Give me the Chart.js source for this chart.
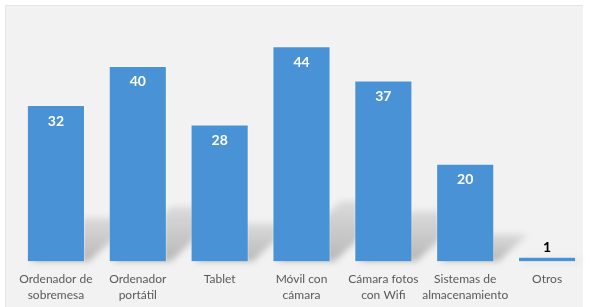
<!DOCTYPE html>
<html>
<head>
<meta charset="utf-8">
<title>Dispositivos</title>
<script src="https://cdn.jsdelivr.net/npm/chart.js"></script>
<style>
  html, body { margin: 0; padding: 0; background: #fff; }
  #wrap { position: relative; width: 590px; height: 307px; }
  #panel { position: absolute; left: 5px; top: 5px; width: 577px; height: 302px;
           background: #f2f2f2; border-left: 1px solid #e4e4e4; border-top: 1px solid #e4e4e4; }
  canvas { position: absolute; left: 0; top: 0; }
</style>
</head>
<body>
<div id="wrap">
  <div id="panel"></div>
  <canvas id="chart" width="590" height="307"></canvas>
</div>
<script>
  // categories (two-line labels) and values
  const categories = [
    ['Ordenador de', 'sobremesa'],
    ['Ordenador', 'portátil'],
    ['Tablet'],
    ['Móvil con', 'cámara'],
    ['Cámara fotos', 'con Wifi'],
    ['Sistemas de', 'almacenamiento'],
    ['Otros']
  ];
  const values = [32, 40, 28, 44, 37, 20, 1];

  const FONT = 'Lato, "Open Sans", sans-serif';

  // per-bar vertical gradient, light at top, deeper blue at base
  function barFill(ctx) {
    const el = ctx.element;
    const c = ctx.chart.ctx;
    if (!el || el.y == null || el.base == null || el.base === el.y) return '#4a92d6';
    const g = c.createLinearGradient(0, el.y, 0, el.base);
    g.addColorStop(0, '#5e9ed7');
    g.addColorStop(1, '#2d82d4');
    return g;
  }

  // soft slanted shadow behind each bar
  const shadowPlugin = {
    id: 'barShadow',
    beforeDatasetsDraw(chart) {
      const c = chart.ctx;
      const meta = chart.getDatasetMeta(0);
      c.save();
      c.filter = 'blur(3px)';
      meta.data.forEach(bar => {
        const h = bar.base - bar.y;
        const x0 = bar.x - bar.width / 2 + 4;
        const x1 = bar.x + bar.width / 2 + 4;
        const rise = h * 0.28;
        const shift = h * 0.3;
        const g = c.createLinearGradient(0, bar.base, 0, bar.base - rise);
        g.addColorStop(0, 'rgba(90,90,90,0.38)');
        g.addColorStop(1, 'rgba(90,90,90,0.15)');
        c.fillStyle = g;
        c.beginPath();
        c.moveTo(x0, bar.base);
        c.lineTo(x1, bar.base);
        c.lineTo(x1 + shift, bar.base - rise);
        c.lineTo(x0 + shift, bar.base - rise);
        c.closePath();
        c.fill();
      });
      c.restore();
    }
  };

  // value labels: white inside the bar top, black above tiny bars
  const labelPlugin = {
    id: 'valueLabels',
    afterDatasetsDraw(chart) {
      const c = chart.ctx;
      const meta = chart.getDatasetMeta(0);
      c.save();
      c.font = 'bold 14px ' + FONT;
      c.textAlign = 'center';
      c.textBaseline = 'middle';
      meta.data.forEach((bar, i) => {
        const h = bar.base - bar.y;
        if (h > 25) {
          c.fillStyle = '#ffffff';
          c.fillText(values[i], bar.x, bar.y + 16);
        } else {
          c.fillStyle = '#000000';
          c.fillText(values[i], bar.x, bar.y - 9);
        }
      });
      c.restore();
    }
  };

  new Chart(document.getElementById('chart'), {
    type: 'bar',
    data: {
      labels: categories,
      datasets: [{
        data: values,
        backgroundColor: barFill,
        borderColor: 'rgba(255,255,255,0.35)',
        borderWidth: 1,
        barPercentage: 0.71,
        categoryPercentage: 1
      }]
    },
    options: {
      responsive: false,
      animation: false,
      layout: { padding: { left: 15, right: 2, top: 17, bottom: -5 } },
      plugins: { legend: { display: false }, tooltip: { enabled: false } },
      scales: {
        x: {
          grid: { display: false, drawTicks: false },
          border: { display: false },
          ticks: {
            color: '#595959',
            font: { family: FONT, size: 12, lineHeight: 1.35 },
            padding: 9,
            maxRotation: 0,
            autoSkip: false
          }
        },
        y: { display: false, min: 0, max: 50 }
      }
    },
    plugins: [shadowPlugin, labelPlugin]
  });
</script>
</body>
</html>
